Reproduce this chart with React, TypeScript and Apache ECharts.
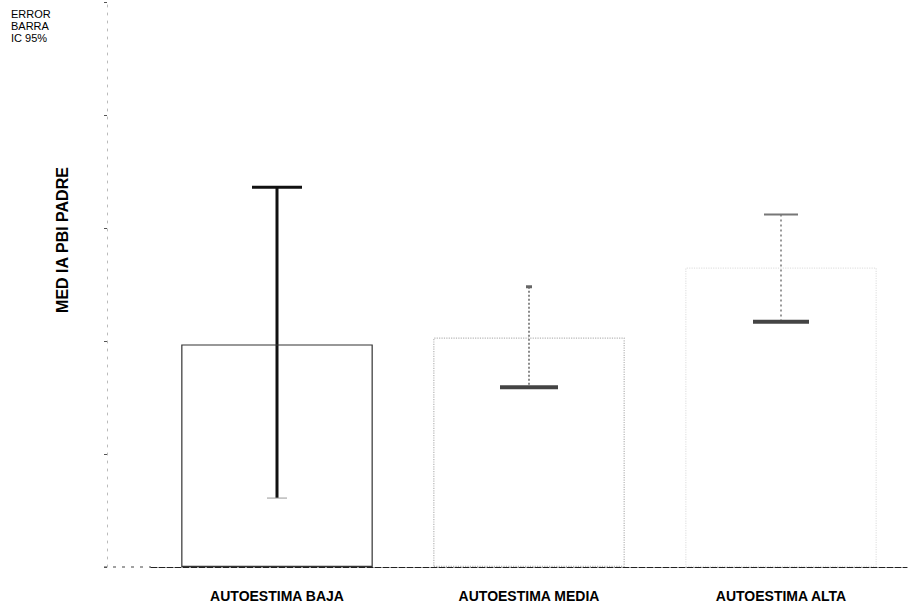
import React, { useEffect, useRef } from "react";
import * as echarts from "echarts";

const categories = ["AUTOESTIMA BAJA", "AUTOESTIMA MEDIA", "AUTOESTIMA ALTA"];
const means = [19.7, 20.3, 26.5];
const lowerCI = [6.1, 15.9, 21.7];
const upperCI = [33.6, 24.8, 31.2];

const barBorderColors = ["#333", "#b5b5b5", "#e2e2e2"];
const barBorderTypes = ["solid", "dotted", "dotted"];
const errColors = ["#111", "#666", "#777"];
const errWidths = [3, 1.5, 1.5];
const errDash = [null, [2, 2], [2, 3]];
const topCapHalf = [25, 3, 17];
const topCapWidth = [3, 3, 2];
const botCapHalf = [10, 29, 28];
const botCapWidth = [1, 4, 4];
const botCapColor = ["#999", "#444", "#444"];

export default function App() {
  const ref = useRef<HTMLDivElement>(null);
  useEffect(() => {
    if (!ref.current) return;
    const chart = echarts.init(ref.current, null, { renderer: "svg" });
    chart.setOption({
      animation: false,
      backgroundColor: "#fff",
      grid: { left: 151, right: 8, top: 2, bottom: 46 },
      xAxis: {
        type: "category",
        data: categories,
        axisLine: { lineStyle: { color: "#222", width: 1.2, type: [6, 2] } },
        axisTick: { alignWithLabel: true, length: 10, lineStyle: { color: "#000", width: 2 } },
        axisLabel: {
          color: "#000",
          fontWeight: "bold",
          fontSize: 14,
          fontFamily: "Liberation Sans, Arial, sans-serif",
          margin: 22,
        },
      },
      yAxis: {
        type: "value",
        min: 0,
        max: 50,
        interval: 10,
        offset: 44,
        axisLine: { show: true, lineStyle: { color: "#bbb", width: 1, type: [2, 6] } },
        axisTick: { show: true, length: 3, lineStyle: { color: "#555" } },
        axisLabel: { show: false },
        splitLine: { show: false },
      },
      graphic: [
        {
          type: "text",
          left: 11,
          top: 8,
          style: {
            text: "ERROR\nBARRA\nIC 95%",
            fill: "#000",
            fontSize: 11,
            lineHeight: 12,
            fontFamily: "Liberation Sans, Arial, sans-serif",
          },
        },
        {
          type: "text",
          x: 62,
          y: 240,
          rotation: Math.PI / 2,
          style: {
            text: "MED IA PBI PADRE",
            fill: "#000",
            fontSize: 16,
            fontWeight: "bold",
            fontFamily: "Liberation Sans, Arial, sans-serif",
            textAlign: "center",
            textVerticalAlign: "middle",
          },
        },
        {
          type: "line",
          shape: { x1: 104, y1: 567, x2: 151, y2: 567 },
          style: { stroke: "#444", lineWidth: 1.2, lineDash: [3, 6] },
        },
      ],
      series: [
        {
          type: "bar",
          barWidth: "76%",
          data: means.map((v, i) => ({
            value: v,
            itemStyle: {
              color: "rgba(0,0,0,0)",
              borderColor: barBorderColors[i],
              borderWidth: 1.2,
              borderType: barBorderTypes[i],
            },
          })),
        },
        {
          type: "custom",
          data: categories.map((_, i) => [i, lowerCI[i], upperCI[i], means[i]]),
          renderItem: (params: any, api: any) => {
            const i = params.dataIndex;
            const x = api.value(0);
            const top = api.coord([x, api.value(2)]);
            const bot = api.coord([x, api.value(1)]);
            const cx = top[0];
            return {
              type: "group",
              children: [
                {
                  type: "line",
                  shape: { x1: cx, y1: top[1], x2: cx, y2: bot[1] },
                  style: {
                    stroke: errColors[i],
                    lineWidth: errWidths[i],
                    lineDash: errDash[i] || undefined,
                  },
                },
                {
                  type: "line",
                  shape: { x1: cx - topCapHalf[i], y1: top[1], x2: cx + topCapHalf[i], y2: top[1] },
                  style: { stroke: errColors[i], lineWidth: topCapWidth[i] },
                },
                {
                  type: "line",
                  shape: { x1: cx - botCapHalf[i], y1: bot[1], x2: cx + botCapHalf[i], y2: bot[1] },
                  style: { stroke: botCapColor[i], lineWidth: botCapWidth[i] },
                },
              ],
            };
          },
        },
      ],
    });
    return () => chart.dispose();
  }, []);
  return <div ref={ref} style={{ width: 915, height: 613, position: "absolute", left: 0, top: 0 }} />;
}
